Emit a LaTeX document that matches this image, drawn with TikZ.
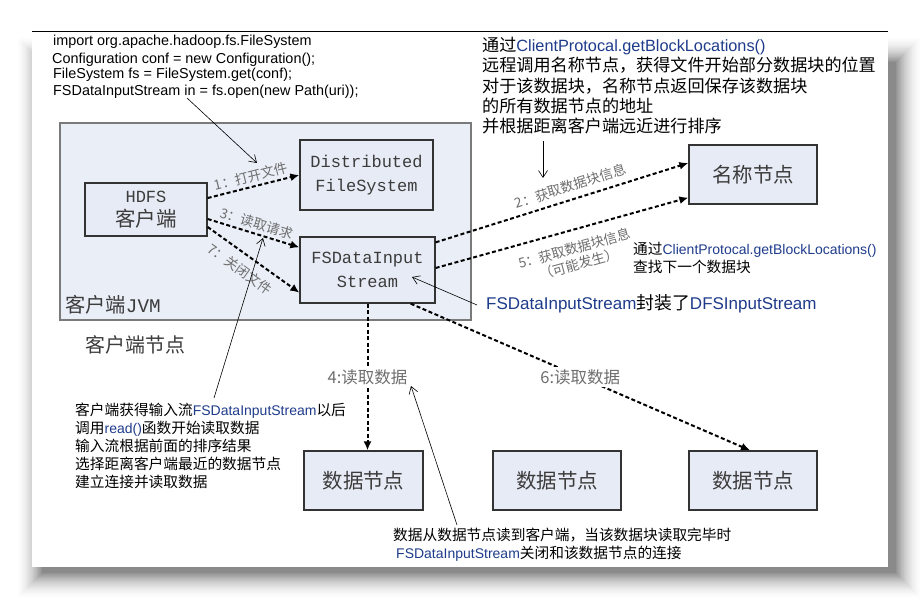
\documentclass[tikz,border=0pt]{standalone}
\usepackage{fontspec}
\setmainfont{Liberation Sans}
\newfontfamily\cjk[Scale=1.05]{Noto Sans CJK SC}
\newfontfamily\boxfont{Liberation Mono}
\usetikzlibrary{arrows.meta,positioning}
\definecolor{boxfill}{HTML}{E6EBF5}
\definecolor{jvmfill}{HTML}{E9EEF7}
\definecolor{jvmline}{HTML}{7A7A7A}
\definecolor{labelgray}{HTML}{6E6E6E}
\definecolor{boxtext}{HTML}{3C3C3C}
\definecolor{apiblue}{HTML}{1F3C8C}
\newcommand{\zh}[1]{{\cjk #1}}
\newcommand{\api}[1]{{\color{apiblue}#1}}

\begin{document}
\begin{tikzpicture}[
        x=1pt, y=-1pt,
        every node/.style = {inner sep=0pt},
        box/.style = {draw=black!80, line width=1.3pt, fill=boxfill, text=boxtext, align=center,
                      font=\fontsize{17}{24}\selectfont\boxfont},
        zhbox/.style = {box, font=\fontsize{19.5}{24}\selectfont\cjk},
        flow/.style = {line width=2pt, dash pattern=on 4pt off 2.5pt, -{Latex[length=9pt,width=8pt]}},
        tag/.style = {text=labelgray, font=\fontsize{12.9}{16}\selectfont\cjk},
        bigtag/.style = {text=labelgray, fill=white, inner sep=2pt, font=\fontsize{15.7}{18}\selectfont\cjk},
        note/.style = {align=left, font=\fontsize{14}{18}\selectfont},
        code/.style = {font=\fontsize{14.4}{17}\selectfont},
        pointer/.style = {line width=0.6pt, -{Straight Barb[length=7pt,width=9pt]}}
    ]
    \fill[white] (0,0) rectangle (923,599);
    \useasboundingbox (0,0) rectangle (923,599);

    % page and its shadow
    \foreach \i in {28,27,...,0} {
        \pgfmathtruncatemacro\shadelevel{46*((29-\i)/29)^2}
        \fill[black!\shadelevel] (42-\i,62-\i) rectangle (896+\i,573+\i);
    }
    \fill[white] (32,32) rectangle (888,567);
    \draw[black, line width=1pt] (32,32) -- (888,32);

    \node[draw=jvmline, line width=1.3pt, fill=jvmfill, minimum width=411pt, minimum height=197pt] (jvm) at (265.5,221.5) {};
    \node[anchor=west, text=boxtext, font=\fontsize{19.3}{24}\selectfont] (jvmlabel) at (65,305) {\zh{客户端}\boxfont JVM};
    \node[anchor=west, text=boxtext, font=\fontsize{19}{24}\selectfont\cjk] (clientnode) at (85,345) {客户端节点};

    \node[box, minimum width=122pt, minimum height=53pt] (client) at (146,209.5) {HDFS\\{\fontsize{19.5}{24}\selectfont\cjk 客户端}};
    \node[box, minimum width=133pt, minimum height=70pt] (dfs) at (366.5,175) {Distributed\\FileSystem};
    \node[box, minimum width=135pt, minimum height=66pt] (fsin) at (367.5,270) {FSDataInput\\Stream};
    \node[zhbox, minimum width=128pt, minimum height=59pt] (namenode) at (753,174.5) {名称节点};

    \node[zhbox, minimum width=119pt, minimum height=59pt] (dn1) at (363.5,480.5) {数据节点};
    \node[zhbox, minimum width=128pt, minimum height=59pt] (dn2) at (557,480.5) {数据节点};
    \node[zhbox, minimum width=128pt, minimum height=59pt] (dn3) at (753,480.5) {数据节点};

    \draw[flow] ([yshift=11.5pt]client.east) -- node[tag, midway, above=3pt, sloped] {1：打开文件} (dfs.west);
    \draw[flow] ([yshift=-9.5pt]client.east) -- node[tag, midway, above=3pt, sloped] {3：读取请求} ([yshift=-11pt]fsin.north west);
    \draw[flow] ([yshift=-17.5pt]client.east) -- node[tag, pos=0.45, below=8pt, sloped] {7：关闭文件} ([yshift=11pt]fsin.south west);
    \draw[flow] ([yshift=-6pt]fsin.north east) -- node[tag, pos=0.55, above=6pt, sloped] {2：获取数据块信息} ([yshift=11.5pt]namenode.west);
    \draw[flow] ([yshift=2pt]fsin.east) -- node[tag, pos=0.53, below=11pt, sloped, align=center] {5：获取数据块信息\\（可能发生）} ([yshift=7pt]namenode.south west);
    \draw[flow] (fsin.south) -- node[bigtag, midway] {4:读取数据} (fsin.south |- dn1.north);
    \draw[flow] ([xshift=-25pt]fsin.south east) -- node[bigtag, midway] {6:读取数据} ([xshift=-3pt]dn3.north);

    \node[code, anchor=west] (import) at (53,42) {import org.apache.hadoop.fs.FileSystem};
    \node[code, anchor=west] (conf) at (52,60) {Configuration conf = new Configuration();};
    \node[code, anchor=west] (fsget) at (53,75) {FileSystem fs = FileSystem.get(conf);};
    \node[code, anchor=west] (fsopen) at (53,92) {FSDataInputStream in = fs.open(new Path(uri));};

    \node[note, anchor=north west, font=\fontsize{16.3}{20.3}\selectfont] (locnote) at (482,37) {%
        \zh{通过}\api{ClientProtocal.getBlockLocations()}\\%
        \zh{远程调用名称节点，获得文件开始部分数据块的位置}\\%
        \zh{对于该数据块，名称节点返回保存该数据块}\\%
        \zh{的所有数据节点的地址}\\%
        \zh{并根据距离客户端远近进行排序}};
    \node[note, anchor=north west] (nextnote) at (633,242) {%
        \zh{通过}\api{ClientProtocal.getBlockLocations()}\\%
        \zh{查找下一个数据块}};
    \node[anchor=west, font=\fontsize{17}{20}\selectfont] (wrapnote) at (486,304) {\api{FSDataInputStream}\zh{封装了}\api{DFSInputStream}};
    \node[note, anchor=north west] (readnote) at (75,403) {%
        \zh{客户端获得输入流}\api{FSDataInputStream}\zh{以后}\\%
        \zh{调用}\api{read()}\zh{函数开始读取数据}\\%
        \zh{输入流根据前面的排序结果}\\%
        \zh{选择距离客户端最近的数据节点}\\%
        \zh{建立连接并读取数据}};
    \node[note, anchor=north west] (closenote) at (393,528) {%
        \zh{数据从数据节点读到客户端，当该数据块读取完毕时}\\%
        \hspace*{3pt}\api{FSDataInputStream}\zh{关闭和该数据节点的连接}};

    \coordinate (codefoot) at (187,98);
    \coordinate (opentip) at (257,163);
    \coordinate (locfoot) at (543,141);
    \coordinate (loctip) at (543,178);
    \coordinate (wraptip) at (412,277);
    \coordinate (readfoot) at (214,398);
    \coordinate (readtip) at (263,238);
    \coordinate (closefoot) at (457,525);
    \coordinate (closetip) at (411,386);

    \draw[pointer] (codefoot) -- (opentip);
    \draw[pointer] (locfoot) -- (loctip);
    \draw[pointer] ([xshift=-9pt,yshift=-1pt]wrapnote.west) -- (wraptip);
    \draw[pointer] (readfoot) -- (readtip);
    \draw[pointer] (closefoot) -- (closetip);
\end{tikzpicture}
\end{document}
